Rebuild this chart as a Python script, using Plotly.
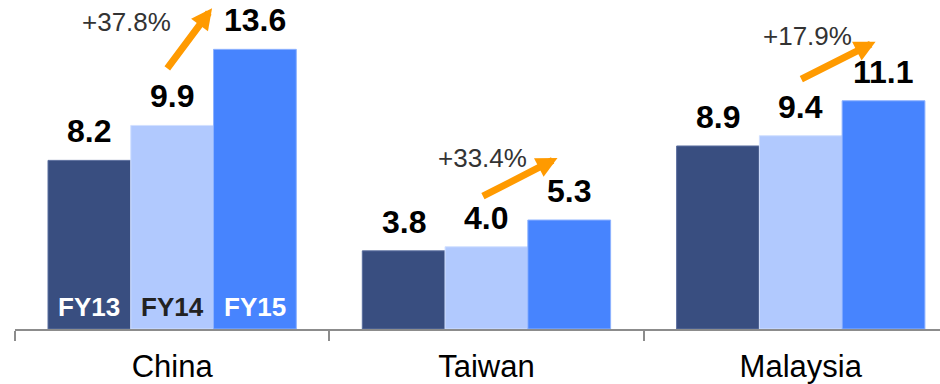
import plotly.graph_objects as go

# Revenue by market, three fiscal years
regions = ["China", "Taiwan", "Malaysia"]
years = ["FY13", "FY14", "FY15"]
fy13 = [8.2, 3.8, 8.9]
fy14 = [9.9, 4.0, 9.4]
fy15 = [13.6, 5.3, 11.1]
growth = ["+37.8%", "+33.4%", "+17.9%"]

series = [fy13, fy14, fy15]
colors = ["#394E80", "#B1C9FE", "#4784FE"]
edges = ["#5A6E9E", "#D2E0FF", "#8DB2FF"]
year_label_colors = ["white", "#222222", "white"]

BARGAP = 0.21
n_series = len(series)
bar_w = (1 - BARGAP) / n_series
offsets = [(i - (n_series - 1) / 2) * bar_w for i in range(n_series)]

FONT = "Liberation Sans, Arial, sans-serif"

fig = go.Figure()
for name, vals, col, edge in zip(years, series, colors, edges):
    fig.add_trace(go.Bar(
        x=regions, y=vals, name=name,
        marker=dict(color=col, line=dict(color=edge, width=1)),
        hoverinfo="skip",
    ))

annotations = []
# value labels above every bar
for s, vals in enumerate(series):
    for c, v in enumerate(vals):
        annotations.append(dict(
            x=c + offsets[s], y=v, xref="x", yref="y",
            text=f"<b>{v:.1f}</b>", showarrow=False,
            yanchor="bottom", yshift=9,
            font=dict(family=FONT, size=32, color="black"),
        ))

# fiscal-year names inside the first group of bars
for s, name in enumerate(years):
    annotations.append(dict(
        x=offsets[s], y=0, xref="x", yref="y",
        text=f"<b>{name}</b>", showarrow=False,
        yanchor="bottom", yshift=5,
        font=dict(family=FONT, size=26, color=year_label_colors[s]),
    ))

# growth arrows (tail -> tip) and growth percentages
arrows = [
    ((-0.019, 12.6), (0.127, 15.6)),
    ((0.984, 6.42), (1.226, 8.32)),
    ((1.997, 12.11), (2.238, 13.97)),
]
growth_pos = [(-0.145, 14.93), (0.987, 8.32), (2.021, 14.25)]

for (tail, tip), txt, pos in zip(arrows, growth, growth_pos):
    annotations.append(dict(
        x=pos[0], y=pos[1], xref="x", yref="y",
        text=txt, showarrow=False,
        font=dict(family=FONT, size=26, color="#333333"),
    ))
    annotations.append(dict(
        x=tip[0], y=tip[1], ax=tail[0], ay=tail[1],
        xref="x", yref="y", axref="x", ayref="y",
        text="", showarrow=True,
        arrowhead=2, arrowsize=0.6, arrowwidth=7,
        arrowcolor="#FF9A00", standoff=0, startstandoff=0,
    ))

fig.update_layout(
    width=940, height=384,
    margin=dict(l=15, r=0, t=0, b=55),
    barmode="group", bargap=BARGAP, bargroupgap=0,
    plot_bgcolor="white", paper_bgcolor="white",
    showlegend=False,
    annotations=annotations,
    xaxis=dict(
        range=[-0.5, 2.443],
        showline=True, linecolor="#8C8C8C", linewidth=2,
        ticks="outside", tickson="boundaries", ticklen=10,
        tickcolor="#8C8C8C", tickwidth=2,
        tickfont=dict(family=FONT, size=31, color="black"),
        ticklabelstandoff=9,
        showgrid=False, zeroline=False,
    ),
    yaxis=dict(
        range=[0, 16], visible=False, showgrid=False, zeroline=False,
    ),
)

fig.write_html("out.html")
